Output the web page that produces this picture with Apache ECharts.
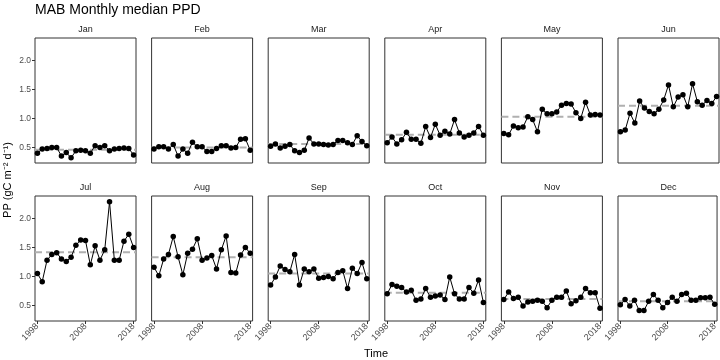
<!DOCTYPE html>
<html>
<head>
<meta charset="utf-8">
<script src="https://cdn.jsdelivr.net/npm/echarts@6/dist/echarts.min.js"></script>
<style>html,body{margin:0;padding:0;background:#fff}#c{width:720px;height:360px}</style>
</head>
<body>
<div id="c"></div>
<script>
const months = ["Jan","Feb","Mar","Apr","May","Jun","Jul","Aug","Sep","Oct","Nov","Dec"];
const years = [1998,1999,2000,2001,2002,2003,2004,2005,2006,2007,2008,2009,2010,2011,2012,2013,2014,2015,2016,2017,2018];
const xTicks = [1998, 2008, 2018];
const yTicks = [0.5, 1.0, 1.5, 2.0];

const jan = [0.40,0.47,0.48,0.50,0.50,0.35,0.41,0.32,0.44,0.45,0.44,0.40,0.53,0.50,0.53,0.44,0.47,0.48,0.49,0.48,0.37];
const feb = [0.47,0.51,0.51,0.47,0.55,0.35,0.47,0.40,0.59,0.51,0.51,0.43,0.43,0.48,0.53,0.53,0.49,0.50,0.64,0.65,0.45];
const mar = [0.52,0.56,0.49,0.52,0.55,0.44,0.41,0.45,0.66,0.56,0.56,0.55,0.54,0.55,0.62,0.62,0.58,0.55,0.70,0.60,0.53];
const apr = [0.58,0.68,0.56,0.63,0.76,0.64,0.64,0.57,0.86,0.67,0.90,0.71,0.78,0.73,0.98,0.75,0.68,0.71,0.75,0.86,0.71];
const may = [0.74,0.72,0.87,0.84,0.85,1.03,0.98,0.77,1.16,1.08,1.08,1.11,1.23,1.26,1.25,1.10,1.00,1.28,1.06,1.07,1.06];
const jun = [0.77,0.80,1.09,0.92,1.30,1.18,1.12,1.08,1.16,1.32,1.58,1.20,1.37,1.41,1.20,1.60,1.29,1.23,1.31,1.26,1.38];
const jul = [1.05,0.91,1.28,1.38,1.41,1.30,1.26,1.33,1.54,1.63,1.62,1.20,1.53,1.28,1.46,2.29,1.28,1.28,1.61,1.73,1.50];
const aug = [1.16,1.01,1.30,1.38,1.69,1.34,1.03,1.40,1.47,1.65,1.28,1.32,1.36,1.13,1.46,1.70,1.07,1.06,1.37,1.50,1.40];
const sep = [0.85,0.99,1.18,1.12,1.08,1.38,0.85,1.13,1.08,1.13,0.97,0.98,1.00,0.96,1.07,1.10,0.79,1.14,1.05,1.24,0.96];
const oct = [0.70,0.86,0.83,0.81,0.73,0.76,0.59,0.61,0.79,0.64,0.66,0.68,0.60,0.99,0.70,0.61,0.61,0.81,0.71,0.94,0.55];
const nov = [0.60,0.73,0.62,0.64,0.49,0.56,0.57,0.59,0.57,0.46,0.59,0.64,0.64,0.75,0.53,0.58,0.64,0.79,0.72,0.72,0.45];
const dec = [0.51,0.60,0.49,0.59,0.41,0.41,0.57,0.69,0.59,0.46,0.55,0.64,0.57,0.69,0.71,0.59,0.59,0.63,0.63,0.64,0.52];
const medians = [0.46,0.50,0.56,0.72,1.03,1.22,1.42,1.33,1.05,0.72,0.61,0.57];

const allSeries = [jan,feb,mar,apr,may,jun,jul,aug,sep,oct,nov,dec];

const FONT = 'Liberation Sans, Arial, Helvetica, sans-serif';
const panelW = 101, panelH = 125, leftStart = 35, pitch = 116.6;
const tops = [38, 196];
const xMin = 1997.5, xMax = 2018.5;

const grids = [], xAxes = [], yAxes = [], series = [], graphics = [];
months.forEach((m, i) => {
  const col = i % 6, row = Math.floor(i / 6);
  const left = leftStart + col * pitch;
  const top = tops[row];
  grids.push({left: left, top: top, width: panelW, height: panelH, show: true,
    borderColor: '#333', borderWidth: 1, backgroundColor: '#fff', containLabel: false});
  xAxes.push({type: 'value', gridIndex: i, min: xMin, max: xMax,
    splitLine: {show: false}, axisLine: {show: false},
    axisTick: {show: row === 1, length: 3, lineStyle: {color: '#333'}, customValues: xTicks},
    axisLabel: {show: row === 1, customValues: xTicks, rotate: 45, fontSize: 9, color: '#4d4d4d',
      fontFamily: FONT, margin: 4, formatter: v => String(v)}
  });
  yAxes.push({type: 'value', gridIndex: i, min: 0.23, max: 2.39,
    splitLine: {show: false}, axisLine: {show: false},
    axisTick: {show: col === 0, length: 3, lineStyle: {color: '#333'}, customValues: yTicks},
    axisLabel: {show: col === 0, customValues: yTicks, fontSize: 8.5, color: '#4d4d4d',
      fontFamily: FONT, margin: 4, formatter: v => v.toFixed(1)}
  });
  // median reference line (drawn under the data)
  series.push({type: 'line', xAxisIndex: i, yAxisIndex: i, z: 1, silent: true, animation: false,
    data: [[xMin, medians[i]], [xMax, medians[i]]],
    symbol: 'none', lineStyle: {color: '#b0b0b0', width: 2, type: [7, 4]}
  });
  series.push({type: 'line', xAxisIndex: i, yAxisIndex: i, z: 3, animation: false,
    data: years.map((y, k) => [y, allSeries[i][k]]),
    symbol: 'circle', symbolSize: 5.5, showSymbol: true,
    itemStyle: {color: '#000'}, lineStyle: {color: '#000', width: 1}
  });
  graphics.push({type: 'text', x: left + panelW / 2, y: top - 4,
    style: {text: m, fill: '#1a1a1a', font: '9px ' + FONT, textAlign: 'center', textVerticalAlign: 'bottom'}});
});

graphics.push({type: 'text', x: 376, y: 354,
  style: {text: 'Time', fill: '#000', font: '11px ' + FONT, textAlign: 'center', textVerticalAlign: 'middle'}});
graphics.push({type: 'text', x: 8, y: 180, rotation: Math.PI / 2,
  style: {text: 'PP (gC m\u207B\u00B2 d\u207B\u00B9)', fill: '#000', font: '11px ' + FONT, textAlign: 'center', textVerticalAlign: 'middle'}});

const chart = echarts.init(document.getElementById('c'), null, {renderer: 'canvas'});
chart.setOption({
  animation: false,
  backgroundColor: '#fff',
  title: {text: 'MAB Monthly median PPD', left: 35, top: 3, padding: 0,
    textStyle: {fontSize: 14, fontWeight: 'normal', color: '#000', fontFamily: FONT}},
  grid: grids, xAxis: xAxes, yAxis: yAxes, series: series, graphic: graphics
});
</script>
</body>
</html>
